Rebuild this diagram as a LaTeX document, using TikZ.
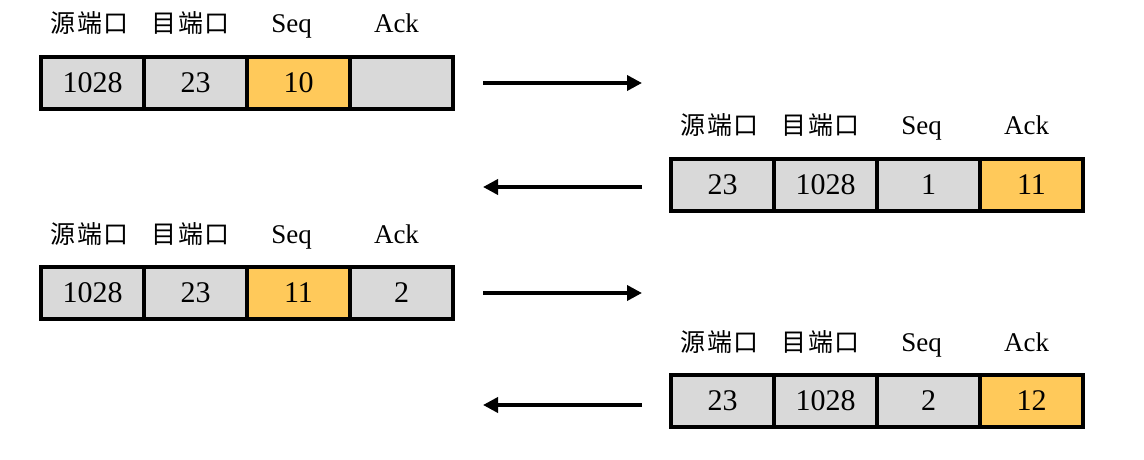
\documentclass[tikz,border=0pt]{standalone}
\usepackage{fontspec}
\setmainfont{Liberation Serif}
\newfontfamily\cjk[LetterSpace=6]{Noto Sans CJK SC}
\usetikzlibrary{arrows.meta,positioning}

\definecolor{cellgray}{RGB}{217,217,217}
\definecolor{cellorange}{RGB}{255,201,90}

\tikzset{
  cell/.style={draw,line width=3.4pt,fill=cellgray,minimum width=103pt,minimum height=52pt,
               inner sep=0pt,outer sep=0pt,font=\fontsize{30}{30}\selectfont},
  hot/.style={cell,fill=cellorange},
  hdr/.style={inner sep=0pt,outer sep=0pt,text height=18pt,text depth=5pt,
              font=\fontsize{27}{27}\selectfont},
  hdrcn/.style={hdr,font=\cjk\fontsize{25}{25}\selectfont},
  flow/.style={-{Triangle[length=15pt,width=15pt]},line width=3.6pt}
}

\begin{document}
\begin{tikzpicture}[x=1pt,y=-1pt]
\useasboundingbox (0,0) rectangle (1144,460);
% first segment, client -> server
\node[cell] (a1) at (92.5,83) {1028};
\node[cell,right=0pt of a1] (a2) {23};
\node[hot,right=0pt of a2] (a3) {10};
\node[cell,right=0pt of a3] (a4) {};
\node[hdrcn,above=19pt of a1,xshift=-3pt] (ha1) {源端口};
\node[hdrcn,above=19pt of a2,xshift=-5pt] (ha2) {目端口};
\node[hdr,above=19pt of a3,xshift=-7pt] (ha3) {Seq};
\node[hdr,above=19pt of a4,xshift=-5pt] (ha4) {Ack};
% reply, server -> client
\node[cell] (b1) at (722.5,185) {23};
\node[cell,right=0pt of b1] (b2) {1028};
\node[cell,right=0pt of b2] (b3) {1};
\node[hot,right=0pt of b3] (b4) {11};
\node[hdrcn,above=19pt of b1,xshift=-3pt] (hb1) {源端口};
\node[hdrcn,above=19pt of b2,xshift=-5pt] (hb2) {目端口};
\node[hdr,above=19pt of b3,xshift=-7pt] (hb3) {Seq};
\node[hdr,above=19pt of b4,xshift=-5pt] (hb4) {Ack};
% second segment
\node[cell] (c1) at (92.5,293) {1028};
\node[cell,right=0pt of c1] (c2) {23};
\node[hot,right=0pt of c2] (c3) {11};
\node[cell,right=0pt of c3] (c4) {2};
\node[hdrcn,above=19pt of c1,xshift=-3pt] (hc1) {源端口};
\node[hdrcn,above=19pt of c2,xshift=-5pt] (hc2) {目端口};
\node[hdr,above=19pt of c3,xshift=-7pt] (hc3) {Seq};
\node[hdr,above=19pt of c4,xshift=-5pt] (hc4) {Ack};
% second reply
\node[cell] (d1) at (722.5,401) {23};
\node[cell,right=0pt of d1] (d2) {1028};
\node[cell,right=0pt of d2] (d3) {2};
\node[hot,right=0pt of d3] (d4) {12};
\node[hdrcn,above=19pt of d1,xshift=-3pt] (hd1) {源端口};
\node[hdrcn,above=19pt of d2,xshift=-5pt] (hd2) {目端口};
\node[hdr,above=19pt of d3,xshift=-7pt] (hd3) {Seq};
\node[hdr,above=19pt of d4,xshift=-5pt] (hd4) {Ack};
% arrows between the two sides
\coordinate (la) at (483,83);  \coordinate (ra) at (642,83);
\coordinate (lb) at (483,187); \coordinate (rb) at (642,187);
\coordinate (lc) at (483,293); \coordinate (rc) at (642,293);
\coordinate (ld) at (483,405); \coordinate (rd) at (642,405);
\draw[flow] (la) -- (ra);
\draw[flow] (rb) -- (lb);
\draw[flow] (lc) -- (rc);
\draw[flow] (rd) -- (ld);
\end{tikzpicture}
\end{document}
